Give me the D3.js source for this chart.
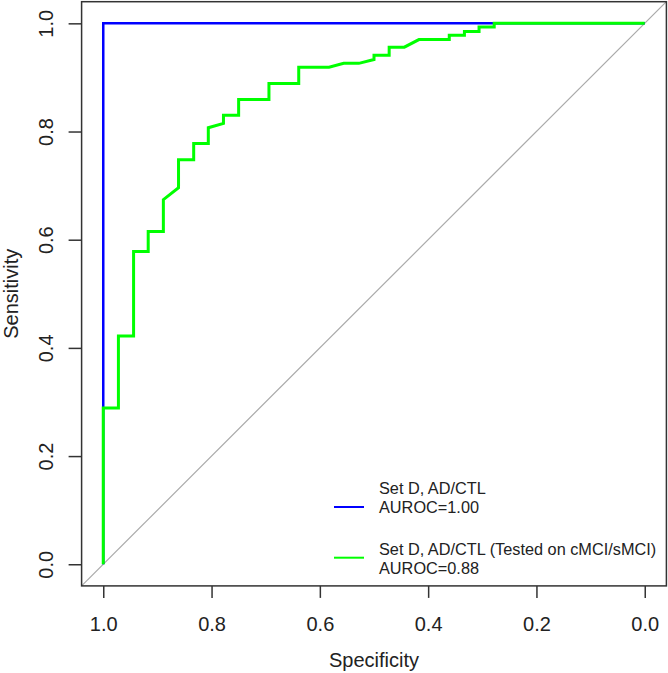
<!DOCTYPE html>
<html><head><meta charset="utf-8">
<script src="https://cdn.jsdelivr.net/npm/d3@7"></script>
<style>html,body{margin:0;padding:0;background:#fff;}svg{display:block;font-family:"Liberation Sans",Arial,sans-serif;}</style>
</head><body>
<script>
// Data
const blueSpec = [1.0, 1.0, 0.0];
const blueSens = [0.0, 1.0, 1.0];
const greenSpec = [1.0, 1.0, 0.972, 0.972, 0.944, 0.944, 0.917, 0.917, 0.889, 0.889, 0.861, 0.861, 0.833, 0.833, 0.806, 0.806, 0.778, 0.778, 0.750, 0.750, 0.694, 0.694, 0.639, 0.639, 0.583, 0.556, 0.528, 0.500, 0.500, 0.472, 0.472, 0.444, 0.417, 0.361, 0.361, 0.333, 0.333, 0.306, 0.306, 0.278, 0.278, 0.0];
const greenSens = [0.0, 0.289, 0.289, 0.422, 0.422, 0.578, 0.578, 0.615, 0.615, 0.674, 0.696, 0.748, 0.748, 0.778, 0.778, 0.807, 0.815, 0.830, 0.830, 0.859, 0.859, 0.889, 0.889, 0.919, 0.919, 0.926, 0.926, 0.933, 0.941, 0.941, 0.956, 0.956, 0.970, 0.970, 0.978, 0.978, 0.985, 0.985, 0.993, 0.993, 1.0, 1.0];
const xTicks = [1.0, 0.8, 0.6, 0.4, 0.2, 0.0];
const yTicks = [0.0, 0.2, 0.4, 0.6, 0.8, 1.0];
const legendLabels = [["Set D, AD/CTL", "AUROC=1.00"], ["Set D, AD/CTL (Tested on cMCI/sMCI)", "AUROC=0.88"]];
const legendColors = ["#0000ff", "#00ff00"];

const W = 668, H = 673;
const svg = d3.select("body").append("svg").attr("width", W).attr("height", H);

const x = d3.scaleLinear().domain([1.04, -0.04]).range([81.6, 666.4]);
const y = d3.scaleLinear().domain([-0.04, 1.04]).range([585.9, 1.7]);

// diagonal
svg.append("line")
  .attr("x1", x(1.04)).attr("y1", y(-0.04))
  .attr("x2", x(-0.04)).attr("y2", y(1.04))
  .attr("stroke", "#aaaaaa").attr("stroke-width", 1.2);

const line = d3.line().x(d => x(d[0])).y(d => y(d[1]));

svg.append("path")
  .datum(blueSpec.map((s, i) => [s, blueSens[i]]))
  .attr("d", line).attr("fill", "none")
  .attr("stroke", legendColors[0]).attr("stroke-width", 2.5);

svg.append("path")
  .datum(greenSpec.map((s, i) => [s, greenSens[i]]))
  .attr("d", line).attr("fill", "none")
  .attr("stroke", legendColors[1]).attr("stroke-width", 3);

// box
svg.append("rect")
  .attr("x", x(1.04)).attr("y", y(1.04))
  .attr("width", x(-0.04) - x(1.04)).attr("height", y(-0.04) - y(1.04))
  .attr("fill", "none").attr("stroke", "#333").attr("stroke-width", 1.5);

// x axis
const xAxis = d3.axisBottom(x).tickValues(xTicks).tickFormat(d3.format(".1f")).tickSize(12).tickPadding(20);
const gx = svg.append("g").attr("transform", `translate(0,${y(-0.04)})`).call(xAxis);
gx.select(".domain").remove();
gx.selectAll(".tick line").attr("stroke", "#333").attr("stroke-width", 1.5);
gx.selectAll(".tick text").attr("font-size", 20).attr("fill", "#222").attr("dy", null).attr("y", 45);

// y axis
const yAxis = d3.axisLeft(y).tickValues(yTicks).tickFormat(d3.format(".1f")).tickSize(13);
const gy = svg.append("g").attr("transform", `translate(${x(1.04)},0)`).call(yAxis);
gy.select(".domain").remove();
gy.selectAll(".tick line").attr("stroke", "#333").attr("stroke-width", 1.5);
gy.selectAll(".tick text")
  .attr("font-size", 20).attr("fill", "#222")
  .attr("x", null).attr("dy", null)
  .attr("text-anchor", "middle")
  .attr("transform", "translate(-29,0) rotate(-90)");

// axis titles
svg.append("text").attr("x", x(0.5)).attr("y", 666.5)
  .attr("text-anchor", "middle").attr("font-size", 20).attr("fill", "#222").text("Specificity");
svg.append("text").attr("transform", `translate(17.5,${y(0.5)}) rotate(-90)`)
  .attr("text-anchor", "middle").attr("font-size", 20).attr("fill", "#222").text("Sensitivity");

// legend
const legY = [[494, 513.3], [555, 574]];
const legLineY = [507, 557.7];
legendLabels.forEach((lab, i) => {
  svg.append("line").attr("x1", 334).attr("x2", 364)
    .attr("y1", legLineY[i]).attr("y2", legLineY[i])
    .attr("stroke", legendColors[i]).attr("stroke-width", 2);
  lab.forEach((t, j) => {
    svg.append("text").attr("x", 379).attr("y", legY[i][j])
      .attr("font-size", 16.3).attr("fill", "#222").text(t);
  });
});
</script>
</body></html>
